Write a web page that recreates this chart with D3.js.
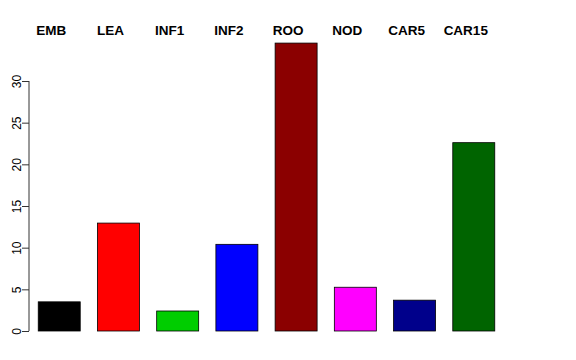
<!DOCTYPE html>
<html>
<head>
<meta charset="utf-8">
<script src="https://cdn.jsdelivr.net/npm/d3@7"></script>
<style>
  body { margin: 0; background: #fff; }
  text { font-family: "Liberation Sans", Arial, sans-serif; }
</style>
</head>
<body>
<script>
/* ------------------------------- data ------------------------------- */
const categories = ["EMB", "LEA", "INF1", "INF2", "ROO", "NOD", "CAR5", "CAR15"];
const values = [3.5, 12.95, 2.4, 10.4, 34.55, 5.25, 3.7, 22.6];
const barColors = ["#000000", "#ff0000", "#00cd00", "#0000ff", "#8b0000", "#ff00ff", "#00008b", "#006400"];
const yTicks = [0, 5, 10, 15, 20, 25, 30];

/* ------------------------------ layout ------------------------------ */
const width = 576, height = 360;
const axisX = 29;

const svg = d3.select("body").append("svg")
    .attr("width", width)
    .attr("height", height);

const x = d3.scaleBand()
    .domain(categories)
    .range([21, 512])
    .paddingInner(0.291)
    .paddingOuter(0.291);

const y = d3.scaleLinear()
    .domain([0, 30])
    .range([331, 81]);

// bars
svg.append("g")
    .selectAll("rect")
    .data(categories)
    .join("rect")
    .attr("x", d => x(d))
    .attr("y", (d, i) => y(values[i]))
    .attr("width", x.bandwidth())
    .attr("height", (d, i) => y(0) - y(values[i]))
    .attr("fill", (d, i) => barColors[i])
    .attr("stroke", "#000")
    .attr("stroke-width", 0.8);

// y axis, R style (rotated labels)
const yAxis = svg.append("g")
    .attr("transform", `translate(${axisX},0)`)
    .call(d3.axisLeft(y).tickValues(yTicks).tickSize(7).tickPadding(0).tickFormat(d3.format("d")));
yAxis.select(".domain").attr("d", `M0,${y(0)}V${y(30)}`).attr("stroke", "#333");
yAxis.selectAll(".tick line").attr("stroke", "#333");
yAxis.selectAll(".tick text")
    .attr("x", null).attr("dy", null)
    .attr("text-anchor", "middle")
    .attr("transform", "translate(-12.5,0) rotate(-90)")
    .attr("dy", "0.35em")
    .style("font-size", "12px")
    .attr("fill", "#000");

// category labels along the top
svg.append("g")
    .selectAll("text")
    .data(categories)
    .join("text")
    .attr("x", d => x(d) + x.bandwidth() / 2 - 8)
    .attr("y", 35)
    .attr("text-anchor", "middle")
    .style("font-size", "13.5px")
    .style("font-weight", "bold")
    .text(d => d);
</script>
</body>
</html>
